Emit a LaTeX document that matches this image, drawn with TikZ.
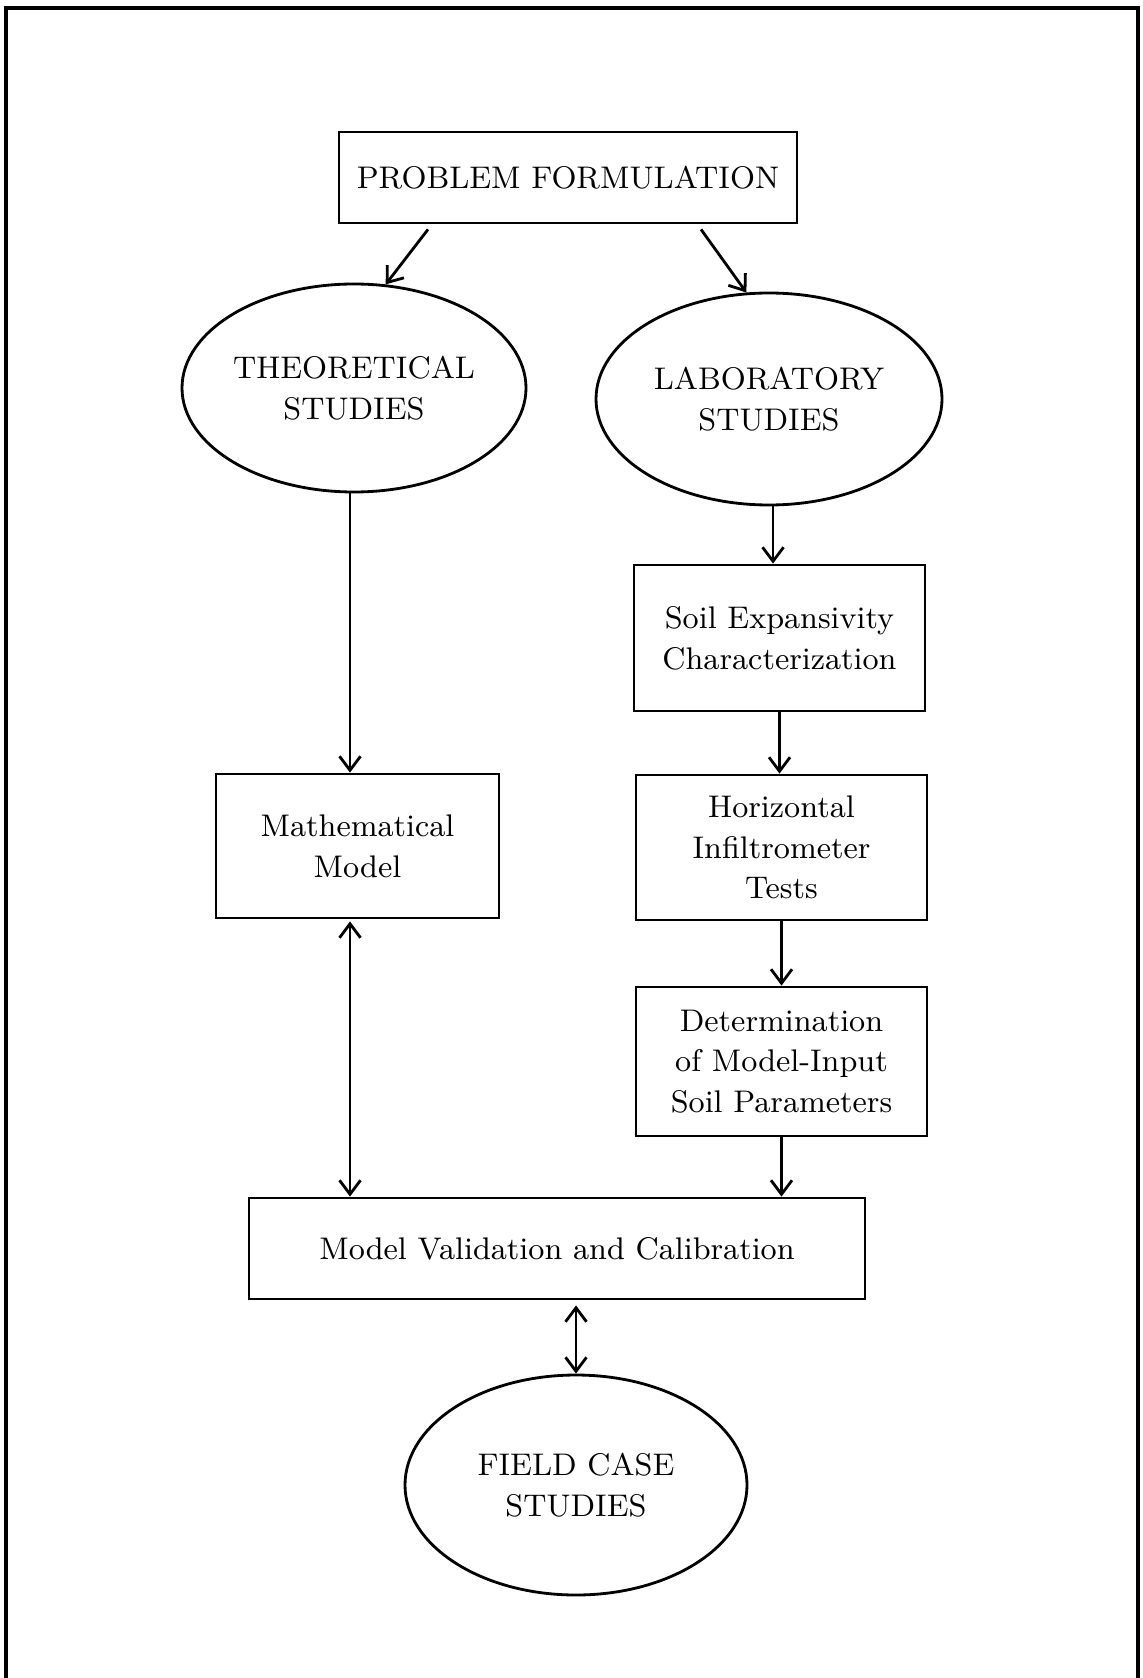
\documentclass[tikz,border=0pt]{standalone}
\usepackage{tikz}
\usetikzlibrary{shapes.geometric,arrows.meta}

\tikzset{
  stagebox/.style={draw,line width=0.8pt,rectangle,align=center,inner sep=0pt},
  studyoval/.style={draw,line width=0.8pt,ellipse,align=center,inner sep=0pt},
  flow/.style={line width=0.8pt,-{Straight Barb[length=1.4mm,width=2.1mm]}},
  twoway/.style={line width=0.8pt,{Straight Barb[length=1.4mm,width=2.1mm]}-{Straight Barb[length=1.4mm,width=2.1mm]}}
}

\begin{document}
\begin{tikzpicture}[font=\fontsize{8.9}{11.6}\selectfont]
  \useasboundingbox (0,0) rectangle (11.42,-16.78);
  \draw[line width=1.1pt] (0.06,-16.85) -- (0.06,-0.08) -- (11.38,-0.08) -- (11.38,-16.85);

  \node[stagebox,minimum width=4.58cm,minimum height=0.91cm] (prob) at (5.68,-1.775) {PROBLEM FORMULATION};
  \node[studyoval,minimum width=3.44cm,minimum height=2.08cm] (theo) at (3.54,-3.88) {THEORETICAL\\STUDIES};
  \node[studyoval,minimum width=3.46cm,minimum height=2.12cm] (lab) at (7.69,-3.99) {LABORATORY\\STUDIES};

  \node[stagebox,minimum width=2.91cm,minimum height=1.46cm] (soil) at (7.795,-6.38) {Soil Expansivity\\Characterization};
  \node[stagebox,minimum width=2.91cm,minimum height=1.45cm] (horiz) at (7.815,-8.475) {Horizontal\\Infiltrometer\\Tests};
  \node[stagebox,minimum width=2.91cm,minimum height=1.49cm] (determ) at (7.815,-10.615) {Determination\\of Model-Input\\Soil Parameters};
  \node[stagebox,minimum width=2.83cm,minimum height=1.44cm] (math) at (3.575,-8.46) {Mathematical\\Model};
  \node[stagebox,minimum width=6.16cm,minimum height=1.01cm] (valid) at (5.57,-12.485) {Model Validation and Calibration};
  \node[studyoval,minimum width=3.42cm,minimum height=2.2cm] (field) at (5.76,-14.85) {FIELD CASE\\STUDIES};

  \draw[flow] ([xshift=-1.4cm,yshift=-0.05cm]prob.south) -- (theo.73);
  \draw[flow] ([xshift=1.33cm,yshift=-0.05cm]prob.south) -- (lab.102);
  \draw[flow] ([xshift=-0.04cm]theo.south) -- ([xshift=-0.04cm]theo.south |- math.north);
  \draw[flow] ([xshift=0.04cm]lab.south) -- ([xshift=0.04cm]lab.south |- soil.north);
  \draw[flow] (soil.south) -- (soil.south |- horiz.north);
  \draw[flow] (horiz.south) -- (determ.north);
  \draw[flow] (determ.south) -- (determ.south |- valid.north);
  \draw[twoway] ([xshift=-0.04cm,yshift=-0.02cm]math.south -| theo.south) -- ([xshift=-0.04cm]theo.south |- valid.north);
  \draw[twoway] ([yshift=-0.05cm]valid.south -| field.north) -- (field.north);
\end{tikzpicture}
\end{document}
